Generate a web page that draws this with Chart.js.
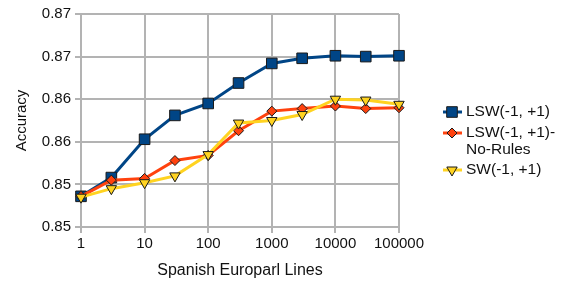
<!DOCTYPE html>
<html>
<head>
<meta charset="utf-8">
<script src="https://cdn.jsdelivr.net/npm/chart.js@4/dist/chart.umd.min.js"></script>
<style>
  html, body { margin: 0; padding: 0; background: #fff; }
  #wrap { width: 576px; height: 288px; }
</style>
</head>
<body>
<div id="wrap"><canvas id="chart"></canvas></div>
<script>
// Data
const europarlLines = [1, 3, 10, 30, 100, 300, 1000, 3000, 10000, 30000, 100000];
const lswValues     = [0.8486, 0.8508, 0.8553, 0.8581, 0.8595, 0.8619, 0.8642, 0.8648, 0.8651, 0.8650, 0.8651];
const noRulesValues = [0.8486, 0.8505, 0.8507, 0.8528, 0.8534, 0.8563, 0.8586, 0.8589, 0.8592, 0.8589, 0.8590];
const swValues      = [0.8485, 0.8495, 0.8502, 0.8510, 0.8535, 0.8572, 0.8575, 0.8582, 0.8600, 0.8599, 0.8594];

const seriesNames = [['LSW(-1, +1)'], ['LSW(-1, +1)-', 'No-Rules'], ['SW(-1, +1)']];
const xTickValues = [1, 10, 100, 1000, 10000, 100000];
const yTickValues = [0.845, 0.85, 0.855, 0.86, 0.865, 0.87];
const yTickLabels = ['0.85', '0.85', '0.86', '0.86', '0.87', '0.87'];

const FONT = "'Liberation Sans', Arial, sans-serif";
const TEXT = '#111';
const GRID = '#b3b3b3';

function toPoints(values) {
    return europarlLines.map((x, i) => ({ x: x, y: values[i] }));
}

const styles = [
    { color: '#004586', point: 'rect', radius: 7.5, rotation: 0, width: 3 },
    { color: '#ff420e', point: 'rectRot', radius: 5, rotation: 0, width: 3 },
    { color: '#ffd320', point: 'triangle', radius: 6, rotation: 180, width: 3 }
];

const datasets = [lswValues, noRulesValues, swValues].map((vals, i) => ({
    label: seriesNames[i].join(' '),
    data: toPoints(vals),
    borderColor: styles[i].color,
    backgroundColor: styles[i].color,
    borderWidth: styles[i].width,
    pointStyle: styles[i].point,
    pointRadius: styles[i].radius,
    pointRotation: styles[i].rotation,
    pointBorderColor: '#1a1a1a',
    pointBorderWidth: 1,
    pointBackgroundColor: styles[i].color,
    tension: 0,
    clip: false,
    order: 3 - i
}));

// Legend drawn by hand so the second entry can wrap on two lines
const sideLegend = {
    id: 'sideLegend',
    afterDraw(chart) {
        const ctx = chart.ctx;
        const rows = [112, 133, 170];
        ctx.save();
        ctx.font = '15.5px ' + FONT;
        ctx.textAlign = 'left';
        ctx.textBaseline = 'middle';
        styles.forEach((s, i) => {
            const y = rows[i];
            ctx.strokeStyle = s.color;
            ctx.lineWidth = s.width;
            ctx.beginPath();
            ctx.moveTo(443, y);
            ctx.lineTo(462, y);
            ctx.stroke();
            ctx.fillStyle = s.color;
            ctx.strokeStyle = '#1a1a1a';
            ctx.lineWidth = 1;
            Chart.helpers.drawPoint(ctx, { pointStyle: s.point, radius: s.radius, rotation: s.rotation, borderWidth: 1 }, 452, y);
            ctx.fillStyle = TEXT;
            seriesNames[i].forEach((line, j) => {
                ctx.fillText(line, 466, y + j * 17);
            });
        });
        ctx.restore();
    }
};

new Chart(document.getElementById('chart'), {
    type: 'line',
    data: { datasets: datasets },
    plugins: [sideLegend],
    options: {
        responsive: true,
        maintainAspectRatio: false,
        animation: false,
        layout: { padding: { top: 14, right: 177, left: 0, bottom: 0 } },
        plugins: {
            legend: { display: false },
            tooltip: { enabled: false }
        },
        scales: {
            x: {
                type: 'logarithmic',
                min: 1,
                max: 100000,
                afterBuildTicks: (scale) => {
                    scale.ticks = xTickValues.map(v => ({ value: v }));
                },
                afterFit: (scale) => { scale.height = 61; },
                grid: { color: GRID, lineWidth: 2, tickLength: 6 },
                border: { color: GRID, width: 2 },
                ticks: {
                    color: TEXT,
                    font: { family: FONT, size: 15 },
                    maxRotation: 0,
                    padding: 2,
                    callback: (v) => String(v)
                },
                title: {
                    display: true,
                    text: 'Spanish Europarl Lines',
                    color: TEXT,
                    font: { family: FONT, size: 16 },
                    padding: { top: 4, bottom: 8 }
                }
            },
            y: {
                min: 0.845,
                max: 0.87,
                afterBuildTicks: (scale) => {
                    scale.ticks = yTickValues.map(v => ({ value: v }));
                },
                afterFit: (scale) => { scale.width = 81; },
                grid: { color: GRID, lineWidth: 2, tickLength: 6 },
                border: { color: GRID, width: 2 },
                ticks: {
                    color: TEXT,
                    font: { family: FONT, size: 15 },
                    padding: 4,
                    callback: (v, i) => yTickLabels[i]
                },
                title: {
                    display: true,
                    text: 'Accuracy',
                    color: TEXT,
                    font: { family: FONT, size: 15 },
                    padding: { top: 13, bottom: 0 }
                }
            }
        }
    }
});
</script>
</body>
</html>
